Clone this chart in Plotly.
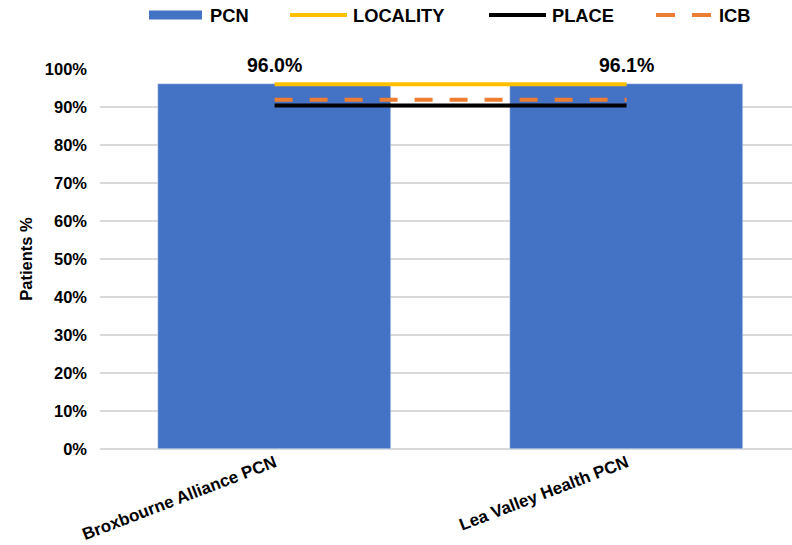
import plotly.graph_objects as go

categories = ["Broxbourne Alliance PCN", "Lea Valley Health PCN"]
pcn = [0.960, 0.961]
locality = [0.960, 0.960]
place = [0.904, 0.904]
icb = [0.919, 0.919]
y_ticks = [0, 0.1, 0.2, 0.3, 0.4, 0.5, 0.6, 0.7, 0.8, 0.9, 1.0]

FONT = "Liberation Sans, Arial, sans-serif"
W, H = 792, 545
ML, MR, MT, MB = 100, 0, 69, 96

fig = go.Figure()
fig.add_trace(go.Bar(x=categories, y=pcn, name="PCN", marker_color="#4472C4",
                     width=0.662, showlegend=False))
fig.add_trace(go.Scatter(x=categories, y=place, mode="lines", name="PLACE",
                         line=dict(color="#000000", width=4), showlegend=False))
fig.add_trace(go.Scatter(x=categories, y=icb, mode="lines", name="ICB",
                         line=dict(color="#ED7D31", width=4, dash="18px,17px"), showlegend=False))
fig.add_trace(go.Scatter(x=categories, y=locality, mode="lines", name="LOCALITY",
                         line=dict(color="#FFC000", width=4), showlegend=False))

for c, v in zip(categories, pcn):
    fig.add_annotation(x=c, y=v, text=f"{v*100:.1f}%", showarrow=False, yshift=19,
                       font=dict(family=FONT, size=19.5, color="#000", weight="bold"))

# custom legend (pixel -> paper)
pw = W - ML - MR
ph = H - MT - MB
def px(x):
    return (x - ML) / pw
def py(y):
    return (H - MB - y) / ph

ly = 15
fig.add_shape(type="rect", xref="paper", yref="paper", x0=px(149), x1=px(202),
              y0=py(19.5), y1=py(10.5), fillcolor="#4472C4", line_width=0)
fig.add_shape(type="line", xref="paper", yref="paper", x0=px(290), x1=px(347),
              y0=py(ly), y1=py(ly), line=dict(color="#FFC000", width=4))
fig.add_shape(type="line", xref="paper", yref="paper", x0=px(489), x1=px(546),
              y0=py(ly), y1=py(ly), line=dict(color="#000000", width=4))
fig.add_shape(type="line", xref="paper", yref="paper", x0=px(656), x1=px(675),
              y0=py(ly), y1=py(ly), line=dict(color="#ED7D31", width=4))
fig.add_shape(type="line", xref="paper", yref="paper", x0=px(692), x1=px(711),
              y0=py(ly), y1=py(ly), line=dict(color="#ED7D31", width=4))
for name, x in [("PCN", 208), ("LOCALITY", 351), ("PLACE", 550), ("ICB", 717)]:
    fig.add_annotation(xref="paper", yref="paper", x=px(x), y=py(ly), text=name,
                       showarrow=False, xanchor="left", yanchor="middle",
                       font=dict(family=FONT, size=18.3, color="#000", weight="bold"))

fig.update_layout(
    width=W, height=H,
    margin=dict(l=ML, r=MR, t=MT, b=MB, autoexpand=False),
    plot_bgcolor="white", paper_bgcolor="white",
    bargap=0,
    xaxis=dict(range=[-0.496, 1.470], tickangle=-21, showgrid=False,
               showline=False, zeroline=False,
               tickfont=dict(family=FONT, size=17, color="#000", weight="bold")),
    yaxis=dict(range=[0, 1], tickvals=y_ticks, tickformat=".0%",
               showgrid=True, gridcolor="#D9D9D9", gridwidth=1.5,
               zeroline=True, zerolinecolor="#D9D9D9", zerolinewidth=1.5,
               showline=False, ticklabelstandoff=12,
               tickfont=dict(family=FONT, size=16.5, color="#000", weight="bold"),
               title=dict(text="Patients %", standoff=8,
                          font=dict(family=FONT, size=16.5, color="#000", weight="bold"))),
)

fig.write_html("out.html")
